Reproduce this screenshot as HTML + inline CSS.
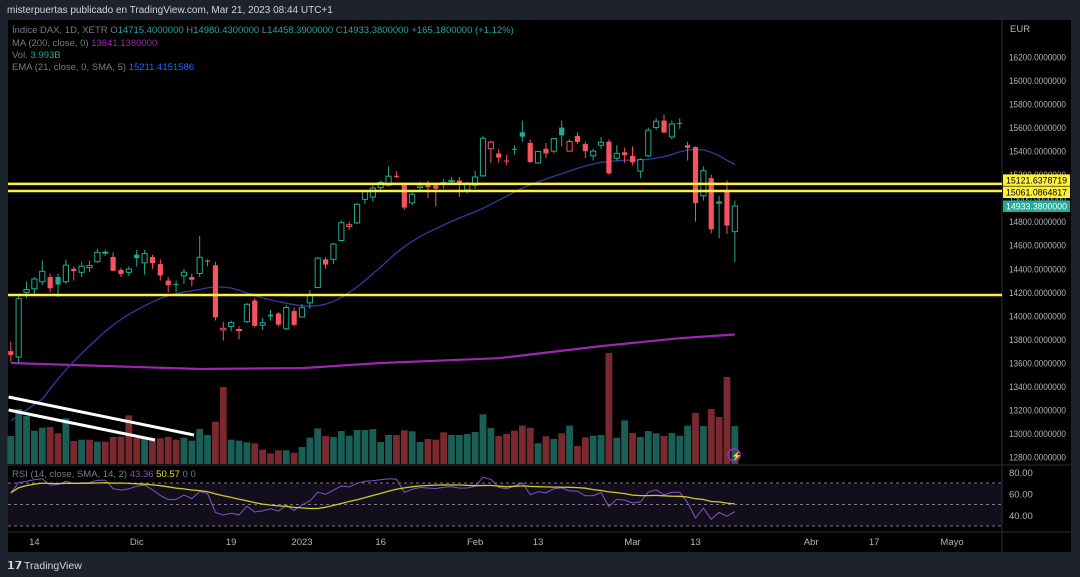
<!DOCTYPE html>
<html><head><meta charset="utf-8">
<style>
html,body{margin:0;padding:0;background:#1e222d;width:1080px;height:577px;overflow:hidden;font-family:"Liberation Sans",sans-serif;}
svg{display:block}
</style></head>
<body>
<svg id="chart" width="1080" height="577" xmlns="http://www.w3.org/2000/svg" font-family="Liberation Sans, sans-serif">
<rect x="0" y="0" width="1080" height="577" fill="#1e222d"/>
<text x="7" y="13" font-size="10" fill="#d1d4dc">misterpuertas publicado en TradingView.com, Mar 21, 2023 08:44 UTC+1</text>
<rect x="8" y="20" width="1063" height="532" fill="#000"/>
<rect x="8" y="483.5" width="994" height="42.5" fill="#120e1c"/>
<line x1="1002" y1="20" x2="1002" y2="552" stroke="#2a2e39"/>
<line x1="8" y1="465" x2="1071" y2="465" stroke="#2a2e39"/>
<line x1="8" y1="532" x2="1071" y2="532" stroke="#2a2e39"/>
<g id="grid"></g><g id="vol"></g><g id="lines"></g><g id="candles"></g><g id="draw"></g><g id="rsi"></g><g id="axes"></g>
<g font-size="9.5">
<text x="12" y="33" fill="#787b86">Índice DAX, 1D, XETR  <tspan fill="#787b86">O</tspan><tspan fill="#26a69a">14715.4000000</tspan>  H<tspan fill="#26a69a">14980.4300000</tspan>  L<tspan fill="#26a69a">14458.3900000</tspan>  C<tspan fill="#26a69a">14933.3800000  +165.1800000 (+1.12%)</tspan></text>
<text x="12" y="46" fill="#787b86">MA (200, close, 0)  <tspan fill="#9c27b0">13841.1380000</tspan></text>
<text x="12" y="58" fill="#787b86">Vol.  <tspan fill="#26a69a">3.993B</tspan></text>
<text x="12" y="70" fill="#787b86">EMA (21, close, 0, SMA, 5)  <tspan fill="#2962ff">15211.4151586</tspan></text>
<text x="12" y="477" fill="#787b86">RSI (14, close, SMA, 14, 2)  <tspan fill="#7e57c2">43.36</tspan>  <tspan fill="#e0e024">50.57</tspan>  0  0</text>
</g>
<text x="1010" y="32" font-size="9.5" fill="#b2b5be">EUR</text>
<g>
<text x="7" y="569" font-size="11" font-weight="bold" fill="#d1d4dc">𝟭𝟳</text>
<text x="24" y="569" font-size="10.5" fill="#d1d4dc">TradingView</text>
</g>
<g><circle cx="734" cy="455" r="6" fill="none" stroke="#9c27b0" stroke-width="1.5"/><text x="731" y="459" font-size="9" fill="#9c27b0">⚡</text></g>
</svg>
<script>
const opens=[13700,13650,14200,14230,14290,14330,14330,14290,14400,14370,14410,14460,14540,14500,14390,14370,14520,14450,14500,14440,14300,14270,14340,14330,14360,14470,14430,13880,13910,13880,13950,14130,13920,14010,14020,13890,14040,13990,14110,14240,14480,14480,14640,14760,14790,14990,15010,15090,15110,15190,15120,14960,15090,15120,15110,15130,15140,15150,15070,15110,15190,15420,15380,15320,15420,15560,15470,15300,15420,15400,15600,15400,15530,15460,15360,15450,15480,15340,15390,15360,15230,15360,15600,15660,15520,15640,15450,15435,15020,15170,14960,15070,14715.4];
const highs=[13780,14180,14290,14330,14470,14360,14360,14480,14420,14460,14470,14570,14560,14540,14410,14420,14560,14560,14520,14480,14330,14300,14400,14360,14680,14480,14460,13950,13960,13910,14110,14150,13980,14050,14030,14090,14070,14100,14220,14500,14500,14620,14810,14800,14960,15070,15110,15150,15270,15230,15130,15050,15140,15150,15130,15160,15180,15180,15140,15230,15530,15490,15420,15370,15450,15660,15500,15400,15470,15510,15660,15500,15560,15480,15420,15520,15500,15450,15430,15440,15340,15600,15680,15710,15660,15680,15480,15440,15270,15200,15020,15150,14980.43];
const lows=[13610,13600,14150,14180,14260,14200,14160,14270,14300,14330,14370,14450,14510,14380,14330,14340,14420,14350,14400,14300,14200,14200,14270,14250,14330,14420,13960,13790,13870,13800,13940,13900,13880,13960,13910,13880,13910,13990,14060,14240,14400,14440,14630,14730,14780,14950,14970,15060,15100,15170,14900,14940,15050,15000,14930,15080,15120,15010,15040,15080,15180,15300,15300,15280,15370,15480,15300,15290,15340,15380,15440,15400,15460,15340,15320,15420,15200,15320,15300,15280,15170,15350,15580,15550,15500,15590,15320,14800,14980,14700,14660,14695,14458.39];
const closes=[13666,14146,14224,14313,14378,14234,14266,14431,14380,14422,14428,14540,14541,14383,14355,14397,14490,14529,14448,14343,14261,14264,14371,14306,14497,14460,13987,13894,13942,13884,14098,13914,13941,13995,13925,14071,13923,14069,14181,14490,14436,14610,14792,14774,14948,15058,15086,15134,15187,15181,14920,15033,15103,15093,15081,15132,15150,15126,15128,15180,15509,15476,15345,15320,15412,15523,15307,15397,15380,15506,15534,15482,15477,15399,15400,15475,15210,15381,15365,15305,15328,15578,15654,15559,15631,15633,15428,14959,15233,14735,14967,14768,14933.38];
const volumes=[2.95,5.79,5.05,3.51,3.82,3.89,3.23,4.81,2.42,2.56,2.56,2.35,2.35,2.84,2.88,5.12,2.74,2.77,2.46,2.70,2.84,2.56,2.77,2.46,3.68,3.05,4.46,8.11,2.56,2.46,2.28,2.18,1.51,1.12,1.44,1.44,1.19,1.79,2.77,3.75,2.95,2.84,3.47,2.98,3.58,3.58,3.68,2.32,3.05,3.05,3.54,3.44,2.32,2.63,2.56,3.33,3.05,3.05,3.16,3.37,5.23,3.79,2.95,3.16,3.51,4.04,3.82,2.18,2.91,2.63,3.23,4.04,1.89,2.81,2.98,3.05,11.68,2.77,4.60,3.26,2.84,3.47,3.23,2.95,3.26,2.98,4.04,5.37,4.00,5.79,4.95,9.16,3.99];
const volUp=[1,1,1,1,1,0,0,1,0,1,0,1,0,0,0,0,0,1,0,0,0,0,1,1,1,1,0,0,1,1,1,0,0,0,0,1,0,1,1,1,0,1,1,1,1,1,1,1,1,0,0,1,1,0,0,0,1,1,1,1,1,1,0,0,0,0,0,1,0,1,0,1,0,0,1,1,0,1,1,0,1,1,1,0,1,1,1,0,1,0,0,0,1];
const ma200Idx=[0,24,37,47,62,75,85,92];
const ma200Vals=[13599,13548,13556,13599,13640,13743,13810,13841];
const hLevels=[15121.6378719,15061.0864817,14177];
const priceTicks=[16200,16000,15800,15600,15400,15200,15000,14800,14600,14400,14200,14000,13800,13600,13400,13200,13000,12800];
const timeLabels=["14","Dic","19","2023","16","Feb","13","Mar","13","Abr","17","Mayo"];
const timeIdx=[3,16,28,37,47,59,67,79,87,101.7,109.7,119.6];
const rsiTicks=[80,60,40];
const emaSeed=13050;

const NS="http://www.w3.org/2000/svg";
const X=i=>10.8+i*7.87;
const Y=p=>57+(16200-p)*0.11765;
const VY=v=>464-v*9.5;
const RY=v=>504.5-(v-50)*1.075;
function mk(parent,tag,attrs){const e=document.createElementNS(NS,tag);for(const k in attrs)e.setAttribute(k,attrs[k]);document.getElementById(parent).appendChild(e);return e;}

volumes.forEach((v,i)=>{
  const up=volUp[i]===1;
  const r=mk('vol','rect',{x:X(i)-3.4,y:VY(v),width:6.8,height:v*9.5,fill:up?'#1b5e55':'#7a2a2e'});
  
  
});
let d=ma200Idx.map((ix,k)=>(k?'L':'M')+X(ix).toFixed(1)+','+Y(ma200Vals[k]).toFixed(1)).join('');
let ma=mk('lines','path',{d:d,fill:'none',stroke:'#9c27b0','stroke-width':2.2});


let ema=[],e=emaSeed,a=2/22;
closes.forEach(c=>{e=e+a*(c-e);ema.push(e);});
let emaS=ema.map((v,i)=>{const s=ema.slice(Math.max(0,i-4),i+1);return s.reduce((p,q)=>p+q,0)/s.length;});
let ep=mk('lines','path',{d:emaS.map((v,i)=>(i?'L':'M')+X(i).toFixed(1)+','+Y(v).toFixed(1)).join(''),fill:'none',stroke:'#2a3f9e','stroke-width':1.3});


closes.forEach((c,i)=>{
  const o=opens[i],prev=i?closes[i-1]:o;
  const col=c>=prev?'#22ab94':'#f7525f';
  const hollow=c>o;
  const g=mk('candles','g',{});
  
  
  const x=X(i);
  const top=Y(Math.max(o,c)),bot=Y(Math.min(o,c));
  const w1=document.createElementNS(NS,'line');
  w1.setAttribute('x1',x);w1.setAttribute('x2',x);w1.setAttribute('y1',Y(highs[i]));w1.setAttribute('y2',Y(lows[i]));w1.setAttribute('stroke',col);w1.setAttribute('stroke-width',1);
  g.appendChild(w1);
  const b=document.createElementNS(NS,'rect');
  b.setAttribute('x',x-2.6);b.setAttribute('y',top);b.setAttribute('width',5.2);b.setAttribute('height',Math.max(1,bot-top));
  if(hollow){b.setAttribute('fill','#000');b.setAttribute('stroke',col);b.setAttribute('stroke-width',1);}else b.setAttribute('fill',col);
  g.appendChild(b);
});
hLevels.forEach((p,k)=>{
  const l=mk('draw','line',{x1:8,x2:1002,y1:Y(p),y2:Y(p),stroke:'#fff03a','stroke-width':2.6});
  
  
});
[[8.6,397,194,435],[8.6,410,155,440]].forEach(t=>{
  const l=mk('draw','line',{x1:t[0],y1:t[1],x2:t[2],y2:t[3],stroke:'#fff','stroke-width':3});
  
  
});
priceTicks.forEach(p=>{
  const t=mk('axes','text',{x:1009,y:Y(p)+3.5,'font-size':9,fill:'#b2b5be',textLength:57,lengthAdjust:'spacingAndGlyphs'});
  t.textContent=p.toFixed(7);
  
  
});
[[hLevels[0],'#fff03a','#000'],[hLevels[1],'#fff03a','#000'],[closes[closes.length-1],'#22ab94','#fff']].forEach((q,k)=>{
  const yy=k==1?Y(q[0])+1:(k==0?Y(q[0])-4:Y(q[0]));
  const r=mk('axes','rect',{x:1003,y:yy-5.5,width:67,height:11.5,fill:q[1]});
  
  
  const t=mk('axes','text',{x:1006,y:yy+3.5,'font-size':9.5,fill:q[2],textLength:61,lengthAdjust:'spacingAndGlyphs'});
  t.textContent=q[0].toFixed(7);
  
  
});
timeLabels.forEach((s,k)=>{
  const t=mk('axes','text',{x:X(timeIdx[k]),y:545,'font-size':9.5,fill:'#b2b5be','text-anchor':'middle'});
  t.textContent=s;
  
  
});
[70,50,30].forEach(v=>{
  const l=mk('rsi','line',{x1:8,x2:1002,y1:RY(v),y2:RY(v),stroke:'#787b86','stroke-dasharray':'3,3','stroke-width':1});
  
  
});
let ag=70,al=45,rsi=[];
closes.forEach((c,i)=>{
  if(i){const ch=c-closes[i-1];ag=(ag*13+Math.max(ch,0))/14;al=(al*13+Math.max(-ch,0))/14;}
  rsi.push(100-100/(1+ag/al));
});
let rsiMa=rsi.map((v,i)=>{const s=rsi.slice(Math.max(0,i-13),i+1);return s.reduce((p,q)=>p+q,0)/s.length;});
let rl=mk('rsi','path',{d:rsi.map((v,i)=>(i?'L':'M')+X(i).toFixed(1)+','+RY(v).toFixed(1)).join(''),fill:'none',stroke:'#7e57c2','stroke-width':1});


let rm=mk('rsi','path',{d:rsiMa.map((v,i)=>(i?'L':'M')+X(i).toFixed(1)+','+RY(v).toFixed(1)).join(''),fill:'none',stroke:'#c9cc2a','stroke-width':1.3});


rsiTicks.forEach(v=>{
  const t=mk('axes','text',{x:1009,y:RY(v)+3.5,'font-size':9.5,fill:'#b2b5be'});
  t.textContent=v.toFixed(2);
  
  
});
</script>
</body></html>
